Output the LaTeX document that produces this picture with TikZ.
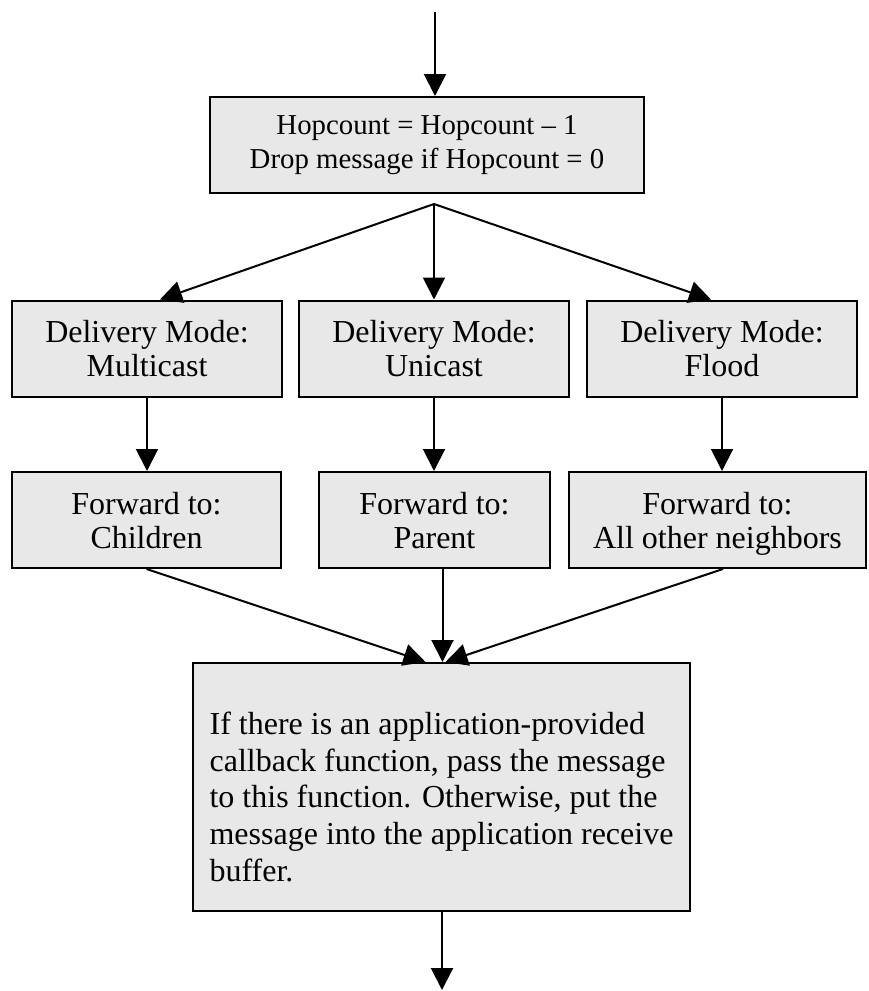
\documentclass[tikz,border=0pt]{standalone}
\usepackage{fontspec}
\setmainfont{Liberation Serif}
\usetikzlibrary{arrows.meta}
\definecolor{boxgray}{RGB}{232,232,232}

\begin{document}
\begin{tikzpicture}[x=0.5pt,y=-0.5pt,
    box/.style={draw,line width=1pt,fill=boxgray,inner sep=0pt,align=center},
    mid/.style={minimum height=48pt,text depth=0pt,font=\fontsize{16}{17}\selectfont},
    arr/.style={line width=1pt,-{Triangle[length=11pt,width=11pt]}}]

    \useasboundingbox (0,0) rectangle (868,991);

    % hop count
    \coordinate (in) at (435,12);
    \node[box,minimum width=217pt,minimum height=48pt,
          font=\fontsize{14.4}{17}\selectfont] (hop) at (427,145)
          {Hopcount = Hopcount – 1\\Drop message if Hopcount = 0};
    \draw[arr] (in) -- (in |- hop.north);

    % delivery modes
    \node[box,mid,minimum width=135pt] (dmA) at (147,348.5) {Delivery Mode:\\Multicast};
    \node[box,mid,minimum width=135pt] (dmB) at (434,348.5) {Delivery Mode:\\Unicast};
    \node[box,mid,minimum width=135pt] (dmC) at (722,348.5) {Delivery Mode:\\Flood};

    \coordinate (fan) at (434,204);
    \draw[arr] (fan) -- ([xshift=6.5pt]dmA.north);
    \draw[arr] (fan) -- (dmB.north);
    \draw[arr] (fan) -- ([xshift=-5.5pt]dmC.north);

    % forwarding
    \node[box,mid,minimum width=134.5pt] (fwA) at (146.5,520) {Forward to:\\Children};
    \node[box,mid,minimum width=115.5pt] (fwB) at (434.5,520) {Forward to:\\Parent};
    \node[box,mid,minimum width=148.5pt] (fwC) at (717.5,520) {Forward to:\\All other neighbors};

    \foreach \d/\f in {dmA/fwA,dmB/fwB,dmC/fwC}
      \draw[arr] (\d.south) -- (\d.south |- \f.north);

    % callback
    \node[box,align=left,minimum width=248.5pt,minimum height=124pt,
          font=\fontsize{16}{18.35}\selectfont] (cb) at (441.5,787)
          {\rule{0pt}{21pt}If there is an application-provided\\
           callback function, pass the message\\
           to this function. Otherwise, put the\\
           message into the application receive\\
           buffer.};

    \draw[arr] (fwA.south) -- ([xshift=-8pt]cb.north);
    \draw[arr] ([xshift=4pt]fwB.south) -- ([xshift=4pt]fwB.south |- cb.north);
    \draw[arr] ([xshift=2.75pt]fwC.south) -- ([xshift=2pt]cb.north);

    \coordinate (out) at (442,990);
    \draw[arr] (cb.south -| out) -- (out);

\end{tikzpicture}
\end{document}
